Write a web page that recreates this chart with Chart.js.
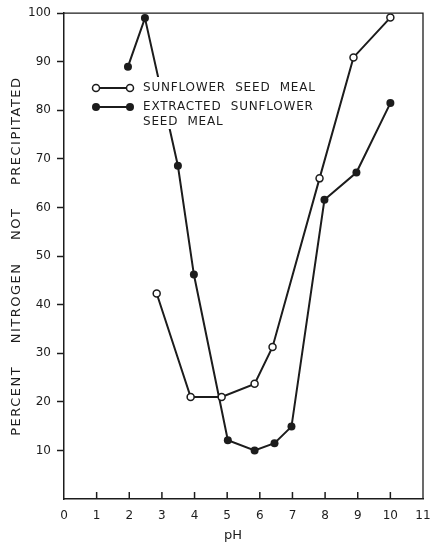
<!DOCTYPE html>
<html>
<head>
<meta charset="utf-8">
<script src="https://cdn.jsdelivr.net/npm/chart.js@4.4.1/dist/chart.umd.min.js"></script>
<style>
  html, body { margin: 0; padding: 0; background: #fff; }
  #wrap { width: 436px; height: 549px; }
</style>
</head>
<body>
<div id="wrap"><canvas id="nitrogenChart"></canvas></div>
<script>
// values
var phMeal = [2.84, 3.88, 4.83, 5.84, 6.39, 7.83, 8.87, 10.0];
var nMeal = [42.3, 21, 21, 23.7, 31.3, 66, 90.9, 99.1];
var phExtracted = [1.96, 2.48, 3.49, 3.98, 5.02, 5.84, 6.45, 6.97, 7.98, 8.96, 10.0];
var nExtracted = [89, 99, 68.6, 46.2, 12.1, 10, 11.5, 14.9, 61.6, 67.2, 81.5];
var xTickValues = [0, 1, 2, 3, 4, 5, 6, 7, 8, 9, 10, 11];
var yTickValues = [10, 20, 30, 40, 50, 60, 70, 80, 90, 100];
var legendMeal = 'SUNFLOWER  SEED  MEAL';
var legendExtracted = ['EXTRACTED  SUNFLOWER', 'SEED  MEAL'];
var yTitle = 'PERCENT    NITROGEN    NOT    PRECIPITATED';
var xTitle = 'pH';

var ink = '#1c1c1c';
var font = '"DejaVu Sans", sans-serif';

function toPoints(xs, ys) {
    return xs.map(function (x, i) { return { x: x, y: ys[i] }; });
}

// frame, inward x ticks, legend and axis titles
var decorations = {
    id: 'decorations',
    afterDatasetsDraw: function (chart) {
        var ctx = chart.ctx;
        var area = chart.chartArea;
        var xs = chart.scales.x;
        ctx.save();
        ctx.strokeStyle = ink;
        ctx.lineWidth = 1.3;
        ctx.beginPath();
        ctx.moveTo(area.left, area.top);
        ctx.lineTo(area.right, area.top);
        ctx.lineTo(area.right, area.bottom);
        ctx.stroke();

        // ticks on the pH axis point into the plot
        ctx.lineWidth = 1.5;
        xTickValues.forEach(function (v) {
            if (v === 0 || v === 11) return;
            var px = xs.getPixelForValue(v);
            ctx.beginPath();
            ctx.moveTo(px, area.bottom);
            ctx.lineTo(px, area.bottom - 7);
            ctx.stroke();
        });

        // legend with white backing over the lines
        var lx = 96, rx = 130, tx = 143;
        var row1 = 88, row2 = 107, row3 = 122;
        ctx.fillStyle = '#fff';
        ctx.fillRect(90, 77, 222, 52);

        ctx.strokeStyle = ink;
        ctx.lineWidth = 2;
        [row1, row2].forEach(function (ry) {
            ctx.beginPath();
            ctx.moveTo(lx, ry);
            ctx.lineTo(rx, ry);
            ctx.stroke();
        });
        [lx, rx].forEach(function (px) {
            ctx.beginPath();
            ctx.arc(px, row1, 3.5, 0, Math.PI * 2);
            ctx.fillStyle = '#fff';
            ctx.fill();
            ctx.lineWidth = 1.5;
            ctx.stroke();
            ctx.beginPath();
            ctx.arc(px, row2, 4, 0, Math.PI * 2);
            ctx.fillStyle = ink;
            ctx.fill();
        });

        ctx.fillStyle = ink;
        ctx.font = '12px ' + font;
        ctx.textBaseline = 'middle';
        ctx.textAlign = 'left';
        ctx.letterSpacing = '0.8px';
        ctx.fillText(legendMeal, tx, row1);
        ctx.fillText(legendExtracted[0], tx, row2);
        ctx.fillText(legendExtracted[1], tx, row3);

        // axis titles
        ctx.font = '13px ' + font;
        ctx.textAlign = 'center';
        ctx.letterSpacing = '0px';
        ctx.fillText(xTitle, 233, 536);

        ctx.translate(17, (area.top + area.bottom) / 2);
        ctx.rotate(-Math.PI / 2);
        ctx.letterSpacing = '1.5px';
        ctx.fillText(yTitle, 0, 0);
        ctx.restore();
    }
};

new Chart(document.getElementById('nitrogenChart'), {
    type: 'line',
    data: {
        datasets: [
            {
                label: legendMeal,
                data: toPoints(phMeal, nMeal),
                borderColor: ink,
                borderWidth: 2,
                tension: 0,
                pointRadius: 3.5,
                pointBorderWidth: 1.5,
                pointBackgroundColor: '#fff',
                pointBorderColor: ink
            },
            {
                label: legendExtracted.join(' '),
                data: toPoints(phExtracted, nExtracted),
                borderColor: ink,
                borderWidth: 2,
                tension: 0,
                pointRadius: 4,
                pointBorderWidth: 0,
                pointBackgroundColor: ink
            }
        ]
    },
    options: {
        responsive: true,
        maintainAspectRatio: false,
        animation: false,
        layout: { padding: { top: 12, right: 13, left: 0, bottom: 0 } },
        plugins: {
            legend: { display: false },
            tooltip: { enabled: false }
        },
        scales: {
            x: {
                type: 'linear',
                min: 0,
                max: 11,
                afterFit: function (scale) {
                    scale.height = 50;
                    scale.paddingLeft = 0;
                    scale.paddingRight = 0;
                },
                afterBuildTicks: function (scale) {
                    scale.ticks = xTickValues.map(function (v) { return { value: v }; });
                },
                ticks: {
                    color: ink,
                    font: { family: font, size: 12 },
                    padding: 10,
                    maxRotation: 0
                },
                grid: { drawOnChartArea: false, drawTicks: false },
                border: { color: ink, width: 1.5 }
            },
            y: {
                type: 'linear',
                min: 0,
                max: 100,
                afterFit: function (scale) { scale.width = 64; },
                afterBuildTicks: function (scale) {
                    scale.ticks = [0].concat(yTickValues).map(function (v) { return { value: v }; });
                },
                ticks: {
                    color: ink,
                    font: { family: font, size: 12 },
                    padding: 6,
                    callback: function (v) { return v === 0 ? '' : v; }
                },
                grid: {
                    drawOnChartArea: false,
                    tickLength: 7,
                    tickWidth: 1.5,
                    tickColor: function (c) { return c.tick.value === 0 ? 'rgba(0,0,0,0)' : ink; }
                },
                border: { color: ink, width: 1.5 }
            }
        }
    },
    plugins: [decorations]
});
</script>
</body>
</html>
